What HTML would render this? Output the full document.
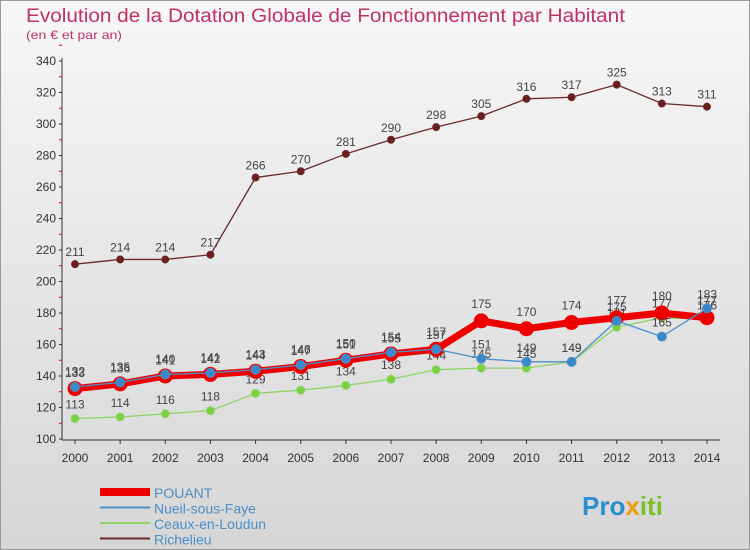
<!DOCTYPE html>
<html><head><meta charset="utf-8"><style>
body{margin:0;width:750px;height:550px;overflow:hidden;font-family:"Liberation Sans",sans-serif;}
svg{display:block}
</style></head><body>
<svg id="c" width="750" height="550">
<defs><linearGradient id="bg" x1="0" y1="0" x2="0" y2="1"><stop offset="0" stop-color="#f7f7f7"/><stop offset="1" stop-color="#d6d6d6"/></linearGradient></defs>
<rect x="0.5" y="0.5" width="749" height="549" fill="url(#bg)" stroke="#999"/>
<text x="26" y="22" font-size="19" fill="#c0306a" textLength="599" lengthAdjust="spacingAndGlyphs">Evolution de la Dotation Globale de Fonctionnement par Habitant</text>
<text x="26" y="39" font-size="12" fill="#c0306a" textLength="96" lengthAdjust="spacingAndGlyphs">(en € et par an)</text>
<g id="grid"></g><g id="axes"></g><g id="series"></g><g id="legend"></g>
<text x="582" y="515" font-size="26" font-weight="bold" fill="#2a8fd0">Pro<tspan fill="#f39c12">x</tspan><tspan fill="#7cbf2a">iti</tspan></text>
</svg>
<script>
const years=[2000,2001,2002,2003,2004,2005,2006,2007,2008,2009,2010,2011,2012,2013,2014];
const yTicks=[100,120,140,160,180,200,220,240,260,280,300,320,340];
const pouant=[132,135,140,141,143,146,150,154,157,175,170,174,177,180,177];
const nueil=[133,136,141,142,144,147,151,155,157,151,149,149,175,165,183];
const ceaux=[113,114,116,118,129,131,134,138,144,145,145,149,171,177,176];
const richelieu=[211,214,214,217,266,270,281,290,298,305,316,317,325,313,311];
const NS="http://www.w3.org/2000/svg";
function X(i){return 75+i*(707-75)/(years.length-1);}
function Y(v){return 439-(v-100)*(439-61)/240;}
function el(t,a,p){const e=document.createElementNS(NS,t);for(const k in a)e.setAttribute(k,a[k]);p.appendChild(e);return e;}
const axes=document.getElementById('axes'),grid=document.getElementById('grid');
el('line',{x1:62,y1:58,x2:62,y2:440,stroke:'#333'},axes);
el('line',{x1:62,y1:440,x2:720,y2:440,stroke:'#333'},axes);
yTicks.forEach(v=>{
 const t=el('text',{x:56,y:Y(v)+4,'font-size':12,'text-anchor':'end',fill:'#333'},axes);t.textContent=v;
 
 
 el('line',{x1:59,y1:Y(v),x2:62,y2:Y(v),stroke:'#333'},axes);
 el('line',{x1:59,y1:Y(v+10),x2:62,y2:Y(v+10),stroke:'#e00'},axes);
});
years.forEach((y,i)=>{
 const t=el('text',{x:X(i),y:462,'font-size':12,'text-anchor':'middle',fill:'#333'},axes);t.textContent=y;
 
 
 el('line',{x1:X(i),y1:440,x2:X(i),y2:444,stroke:'#333'},axes);
});
const S=document.getElementById('series');
function series(d,name,color,w,r,fill,labelOff){
 const g=el('g',{},S);
 
 
 el('polyline',{points:d.map((v,i)=>X(i)+','+Y(v)).join(' '),fill:'none',stroke:color,'stroke-width':w,'stroke-linejoin':'round'},g);
 d.forEach((v,i)=>{
  const c=el('circle',{cx:X(i),cy:Y(v),r:r,fill:fill,stroke:color,'stroke-width':1},g);
  
  
  const t=el('text',{x:X(i),y:Y(v)-labelOff,'font-size':12,'text-anchor':'middle',fill:'#444'},g);t.textContent=v;
  
  
 });
}
series(richelieu,'richelieu','#6b2a2a',1.3,3.5,'#6b2020',8);
series(ceaux,'ceaux-en-loudun','#8fd46a',1.3,4,'#7cd03c',10);
series(pouant,'pouant','#ee0000',7,7,'#ee0000',13);
series(nueil,'nueil-sous-faye','#4a8fc8',1.3,4.5,'#3a88cc',10);
const L=document.getElementById('legend');
[['POUANT','#ee0000',8],['Nueil-sous-Faye','#4a8fc8',2],['Ceaux-en-Loudun','#8fd46a',2],['Richelieu','#6b2a2a',2]].forEach((e,i)=>{
 const y=492+i*15.5;
 const g=el('g',{},L);
 
 
 el('line',{x1:100,y1:y,x2:150,y2:y,stroke:e[1],'stroke-width':e[2]},g);
 const t=el('text',{x:154,y:y+6,'font-size':14,fill:'#4a8fc8'},g);t.textContent=e[0];
});
</script>
</body></html>
